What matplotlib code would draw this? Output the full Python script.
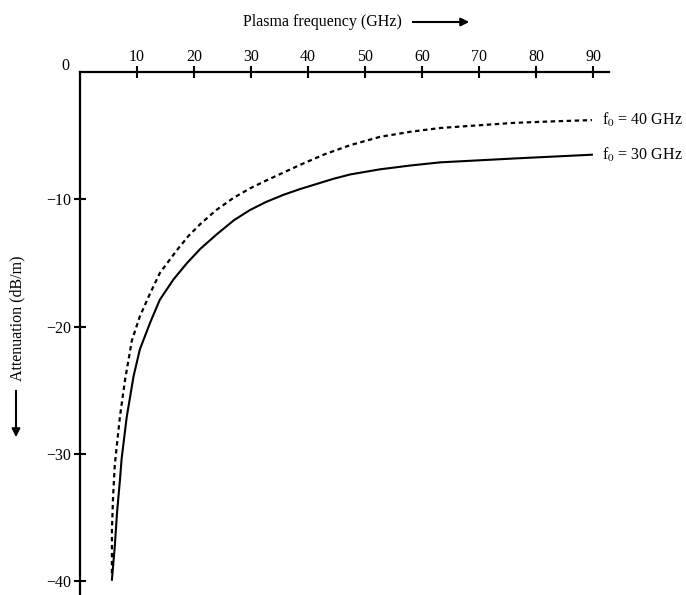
import numpy as np
import matplotlib.pyplot as plt

plt.rcParams['font.family'] = ['Liberation Serif', 'DejaVu Serif']
plt.rcParams['mathtext.fontset'] = 'stix'

# values (plasma frequency in GHz, attenuation in dB/m)
f30_x = [5.6, 6.1, 6.5, 7.0, 7.3, 8.2, 9.4, 10.5, 12.3, 14.0, 16.4, 18.7, 21.1, 24.0, 27.0,
         29.8, 32.7, 35.7, 38.6, 41.5, 44.4, 47.4, 52.6, 57.9, 63.2, 69.6, 76.0, 82.9, 89.8]
f30_y = [-39.9, -37.3, -34.6, -32.1, -30.4, -27.1, -23.9, -21.8, -19.7, -17.9, -16.3, -15.05, -13.9, -12.75, -11.65,
         -10.85, -10.2, -9.65, -9.2, -8.8, -8.4, -8.05, -7.65, -7.35, -7.1, -6.95, -6.8, -6.65, -6.5]
f40_x = [5.6, 5.6, 5.8, 6.1, 6.4, 7.0, 7.9, 9.1, 10.5, 12.3, 14.0, 17.0, 19.0, 21.1, 23.9, 26.9,
         29.8, 32.8, 35.7, 38.6, 43.0, 47.4, 52.6, 57.9, 63.2, 69.6, 76.0, 82.9, 89.8]
f40_y = [-39.4, -36.0, -33.4, -30.9, -29.6, -27.1, -24.2, -21.1, -19.2, -17.4, -15.8, -14.0, -12.9, -11.95, -10.85, -9.9,
         -9.15, -8.5, -7.9, -7.3, -6.45, -5.75, -5.1, -4.7, -4.4, -4.2, -4.0, -3.88, -3.78]
xticks = [10, 20, 30, 40, 50, 60, 70, 80, 90]
yticks = [-10, -20, -30, -40]
ylabels = ['\u221210', '\u221220', '\u221230', '\u221240']

W, H = 686, 595
fig = plt.figure(figsize=(W / 100, H / 100), dpi=100)
ax = fig.add_axes([80 / W, 0.0, (609 - 80) / W, (595 - 72) / H])

ax.plot(f30_x, f30_y, color='black', lw=1.5)
ax.plot(f40_x, f40_y, color='black', lw=1.6, linestyle=(0, (2, 1.6)))

ax.set_xlim(0, 92.8)
ax.set_ylim(-41.1, 0)

for s in ['bottom', 'right']:
    ax.spines[s].set_visible(False)
for s in ['top', 'left']:
    ax.spines[s].set_linewidth(1.6)

ax.xaxis.tick_top()
ax.set_xticks(xticks)
ax.set_xticklabels([str(t) for t in xticks])
ax.set_yticks(yticks)
ax.set_yticklabels(ylabels)
ax.tick_params(axis='x', direction='inout', length=8, width=1.5, labelsize=11.5, pad=1)
ax.tick_params(axis='y', direction='inout', length=8.5, width=1.5, labelsize=11.5, pad=2)

# the "0" at the corner
fig.text(65 / W, 1 - 66 / H, '0', fontsize=11.5, ha='center', va='center')

# curve labels
ax.text(91.6, f40_y[-1], 'f$_0$ = 40 GHz', fontsize=11.5, va='center', ha='left')
ax.text(91.6, f30_y[-1], 'f$_0$ = 30 GHz', fontsize=11.5, va='center', ha='left')

# axis titles with arrows
fig.text(322 / W, 1 - 22 / H, 'Plasma frequency (GHz)', fontsize=11.5, ha='center', va='center')
ax.annotate('', xy=(472, H - 22), xytext=(410, H - 22), xycoords='figure pixels',
            textcoords='figure pixels',
            arrowprops=dict(arrowstyle='-|>', color='black', lw=1.5, mutation_scale=12))
fig.text(17 / W, 1 - 318 / H, 'Attenuation (dB/m)', fontsize=11.5, rotation=90, ha='center', va='center')
ax.annotate('', xy=(16, H - 440), xytext=(16, H - 388), xycoords='figure pixels',
            textcoords='figure pixels',
            arrowprops=dict(arrowstyle='-|>', color='black', lw=1.5, mutation_scale=12))

fig.savefig('out.png', dpi=100)
